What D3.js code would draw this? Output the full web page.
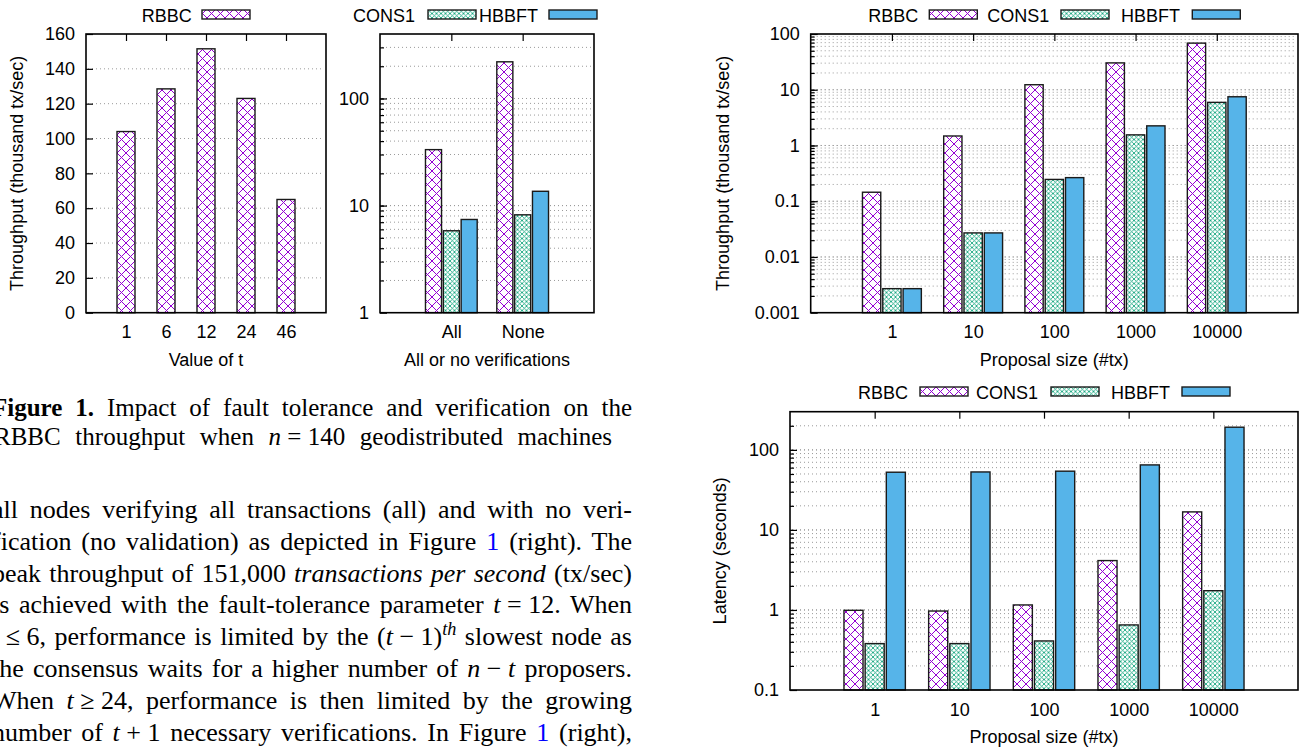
<!DOCTYPE html>
<html>
<head>
<meta charset="utf-8">
<script src="https://cdn.jsdelivr.net/npm/d3@7.9.0/dist/d3.min.js"></script>
<style>
  body { margin: 0; background: #fff; }
  svg { display: block; }
</style>
</head>
<body>
<svg id="fig" width="1307" height="749"></svg>
<script>
// ---- data ----
const tValues = ['1', '6', '12', '24', '46'];
const rbbcByT = [104, 128.5, 151.5, 123, 65];

const verifModes = ['All', 'None'];
const rbbcVerif = [33.3, 220];
const cons1Verif = [5.82, 8.2];
const hbbftVerif = [7.42, 13.6];

const proposalSizes = ['1', '10', '100', '1000', '10000'];
const rbbcTput = [0.145, 1.48, 12.3, 30.3, 68.6];
const cons1Tput = [0.0027, 0.027, 0.246, 1.55, 5.93];
const hbbftTput = [0.0027, 0.027, 0.265, 2.25, 7.48];

const rbbcLat = [0.99, 0.97, 1.155, 4.14, 16.8];
const cons1Lat = [0.38, 0.38, 0.41, 0.65, 1.74];
const hbbftLat = [52.6, 53, 54.2, 64.9, 192];

const seriesNames = ['RBBC', 'CONS1', 'HBBFT'];

const SANS = '"Liberation Sans", Arial, Helvetica, sans-serif';
const SERIF = '"Liberation Serif", "Times New Roman", serif';

const svg = d3.select('#fig');
const defs = svg.append('defs');

// hatch patterns like gnuplot's
function crossPattern(id, size, color, w) {
  const p = defs.append('pattern')
    .attr('id', id)
    .attr('patternUnits', 'userSpaceOnUse')
    .attr('width', size)
    .attr('height', size);
  p.append('rect').attr('width', size).attr('height', size).attr('fill', '#fff');
  p.append('path')
    .attr('d', `M0,0L${size},${size}M${size},0L0,${size}`)
    .attr('stroke', color)
    .attr('stroke-width', w)
    .attr('fill', 'none');
}
crossPattern('pRBBC', 9, '#9400d3', 1);
crossPattern('pCONS1', 4.5, '#009e73', 0.8);

const fills = ['url(#pRBBC)', 'url(#pCONS1)', '#56b4e9'];

function logGrid(domain) {
  const out = [];
  const k0 = Math.floor(Math.log10(domain[0]));
  const k1 = Math.ceil(Math.log10(domain[1]));
  for (let k = k0; k <= k1; k++) {
    for (let m = 1; m <= 9; m++) {
      const v = +(m * Math.pow(10, k)).toPrecision(6);
      if (v > domain[0] * 1.0001 && v < domain[1] * 0.9999) out.push(v);
    }
  }
  return out;
}

function drawPanel(o) {
  const g = svg.append('g');
  const n = o.cats.length;
  const x = d3.scaleLinear().domain([-1, n]).range([o.left, o.right]);
  const y = (o.log ? d3.scaleLog() : d3.scaleLinear())
    .domain(o.yDomain)
    .range([o.bottom, o.top]);

  // Gridlines
  g.append('g').selectAll('line')
    .data(o.grid)
    .join('line')
    .attr('x1', o.left + 2)
    .attr('x2', o.right - 2)
    .attr('y1', d => y(d))
    .attr('y2', d => y(d))
    .attr('stroke', '#9a9a9a')
    .attr('stroke-width', 1)
    .attr('stroke-dasharray', '1,3');

  // Bars
  const ns = o.values.length;
  const unit = x(1) - x(0);
  const bw = (ns === 1 ? 0.45 : 0.225) * unit;
  o.values.forEach((vals, si) => {
    const off = ns === 1 ? 0 : (si - (ns - 1) / 2) * 0.25;
    g.append('g').selectAll('rect')
      .data(vals)
      .join('rect')
      .attr('x', (d, i) => x(i + off) - bw / 2)
      .attr('width', bw)
      .attr('y', d => y(d))
      .attr('height', d => y(o.yDomain[0]) - y(d))
      .attr('fill', fills[o.series[si]])
      .attr('stroke', '#1a1a1a')
      .attr('stroke-width', 1.4);
  });

  // Border
  g.append('rect')
    .attr('x', o.left).attr('y', o.top)
    .attr('width', o.right - o.left).attr('height', o.bottom - o.top)
    .attr('fill', 'none').attr('stroke', '#000').attr('stroke-width', 1.6);

  const styleAxis = a => {
    a.select('.domain').remove();
    a.attr('font-family', SANS).attr('font-size', 18);
    a.selectAll('line').attr('stroke', '#000').attr('stroke-width', 1.2);
    a.selectAll('text').attr('fill', '#000');
  };

  // Y minor ticks
  if (o.minor && o.minor.length) {
    g.append('g')
      .attr('transform', `translate(${o.left},0)`)
      .call(d3.axisLeft(y).tickValues(o.minor).tickSize(-4).tickFormat(''))
      .call(styleAxis);
  }
  // Y major ticks
  g.append('g')
    .attr('transform', `translate(${o.left},0)`)
    .call(d3.axisLeft(y).tickValues(o.major).tickSize(-7).tickPadding(11).tickFormat(d => String(d)))
    .call(styleAxis);

  // top mirrored x ticks
  g.append('g')
    .attr('transform', `translate(0,${o.top})`)
    .call(d3.axisTop(x).tickValues(d3.range(n)).tickSize(-7).tickFormat(''))
    .call(styleAxis);

  // bottom category labels
  g.append('g')
    .attr('transform', `translate(0,${o.bottom})`)
    .call(d3.axisBottom(x).tickValues(d3.range(n)).tickSize(0).tickPadding(13).tickFormat(i => o.cats[i]))
    .call(styleAxis);

  // Titles
  g.append('text')
    .attr('x', (o.left + o.right) / 2)
    .attr('y', o.bottom + 53)
    .attr('text-anchor', 'middle')
    .attr('font-family', SANS).attr('font-size', 18)
    .text(o.xTitle);

  if (o.yTitle) {
    g.append('text')
      .attr('transform', `translate(${o.yTitleX},${(o.top + o.bottom) / 2}) rotate(-90)`)
      .attr('text-anchor', 'middle')
      .attr('dominant-baseline', 'central')
      .attr('font-family', SANS).attr('font-size', 18)
      .text(o.yTitle);
  }
}

function legendEntry(si, textRight, swLeft, swTop) {
  svg.append('text')
    .attr('x', textRight).attr('y', swTop + 11.5)
    .attr('text-anchor', 'end')
    .attr('font-family', SANS).attr('font-size', 18)
    .text(seriesNames[si]);
  svg.append('rect')
    .attr('x', swLeft).attr('y', swTop)
    .attr('width', 48).attr('height', 9)
    .attr('fill', fills[si])
    .attr('stroke', '#1a1a1a').attr('stroke-width', 1.4);
}

// ---- Left pair: fault tolerance and verification ----
drawPanel({
  left: 86, right: 326, top: 34, bottom: 312.7,
  cats: tValues, values: [rbbcByT], series: [0],
  yDomain: [0, 160], major: d3.range(0, 161, 20), grid: d3.range(20, 160, 20),
  xTitle: 'Value of t', yTitle: 'Throughput (thousand tx/sec)', yTitleX: 17,
});
drawPanel({
  left: 380, right: 594, top: 34, bottom: 312.7, log: true,
  cats: verifModes, values: [rbbcVerif, cons1Verif, hbbftVerif], series: [0, 1, 2],
  yDomain: [1, 400], major: [1, 10, 100], minor: logGrid([1, 400]), grid: logGrid([1, 400]).concat([10, 100]),
  xTitle: 'All or no verifications',
});
legendEntry(0, 191.7, 202, 10);
legendEntry(1, 415, 428, 10);
legendEntry(2, 538, 549, 10);

// ---- Right: throughput vs proposal size ----
drawPanel({
  left: 810.7, right: 1298, top: 34, bottom: 312.7, log: true,
  cats: proposalSizes, values: [rbbcTput, cons1Tput, hbbftTput], series: [0, 1, 2],
  yDomain: [0.001, 100], major: [0.001, 0.01, 0.1, 1, 10, 100],
  minor: logGrid([0.001, 100]), grid: logGrid([0.001, 100]).concat([0.01, 0.1, 1, 10]),
  xTitle: 'Proposal size (#tx)', yTitle: 'Throughput (thousand tx/sec)', yTitleX: 723,
});
legendEntry(0, 918.3, 929.3, 10);
legendEntry(1, 1049.3, 1061, 10);
legendEntry(2, 1180, 1192.3, 10);

// ---- Right: latency vs proposal size ----
drawPanel({
  left: 790, right: 1298, top: 411.7, bottom: 690, log: true,
  cats: proposalSizes, values: [rbbcLat, cons1Lat, hbbftLat], series: [0, 1, 2],
  yDomain: [0.1, 300], major: [0.1, 1, 10, 100],
  minor: logGrid([0.1, 300]), grid: logGrid([0.1, 300]).concat([1, 10, 100]),
  xTitle: 'Proposal size (#tx)', yTitle: 'Latency (seconds)', yTitleX: 720,
});
legendEntry(0, 908, 920, 387);
legendEntry(1, 1038, 1051, 387);
legendEntry(2, 1170, 1182, 387);

// ---- Paper text (justified lines) ----
const S = '\u2005';
function textLine(y, x0, width, parts, size) {
  const t = svg.append('text')
    .attr('x', x0).attr('y', y)
    .attr('font-family', SERIF).attr('font-size', size)
    .attr('fill', '#000');
  parts.forEach(p => {
    if (typeof p === 'string') p = { s: p };
    const ts = t.append('tspan').text(p.s);
    if (p.i) ts.attr('font-style', 'italic');
    if (p.b) ts.attr('font-weight', 'bold');
    if (p.c) ts.attr('fill', p.c);
    if (p.sup) ts.attr('baseline-shift', 'super').attr('font-size', size * 0.7);
  });
  const nat = t.node().getComputedTextLength();
  const spaces = (t.text().match(/ /g) || []).length;
  if (spaces) t.style('word-spacing', ((width - nat) / spaces) + 'px');
}

const BLUE = '#0000ff';
textLine(416, -8, 640, [{ s: 'Figure 1.', b: true }, ' Impact of fault tolerance and verification on the'], 25);
textLine(445, -6, 618, ['RBBC throughput when ', { s: 'n', i: true }, S + '=' + S + '140 geodistributed machines'], 25);

const bodyLines = [
  ['all nodes verifying all transactions (all) and with no veri-'],
  ['fication (no validation) as depicted in Figure ', { s: '1', c: BLUE }, ' (right). The'],
  ['peak throughput of 151,000 ', { s: 'transactions per second', i: true }, ' (tx/sec)'],
  ['is achieved with the fault-tolerance parameter ', { s: 't', i: true }, S + '=' + S + '12. When'],
  [{ s: 't', i: true }, S + '\u2264' + S + '6, performance is limited by the (', { s: 't', i: true }, S + '\u2212' + S + '1)', { s: 'th', i: true, sup: true }, ' slowest node as'],
  ['the consensus waits for a higher number of ', { s: 'n', i: true }, S + '\u2212' + S, { s: 't', i: true }, ' proposers.'],
  ['When ', { s: 't', i: true }, S + '\u2265' + S + '24, performance is then limited by the growing'],
  ['number of ', { s: 't', i: true }, S + '+' + S + '1 necessary verifications. In Figure ', { s: '1', c: BLUE }, ' (right),'],
];
bodyLines.forEach((parts, i) => textLine(518 + i * 31.8, -8, 640, parts, 26));
</script>
</body>
</html>
